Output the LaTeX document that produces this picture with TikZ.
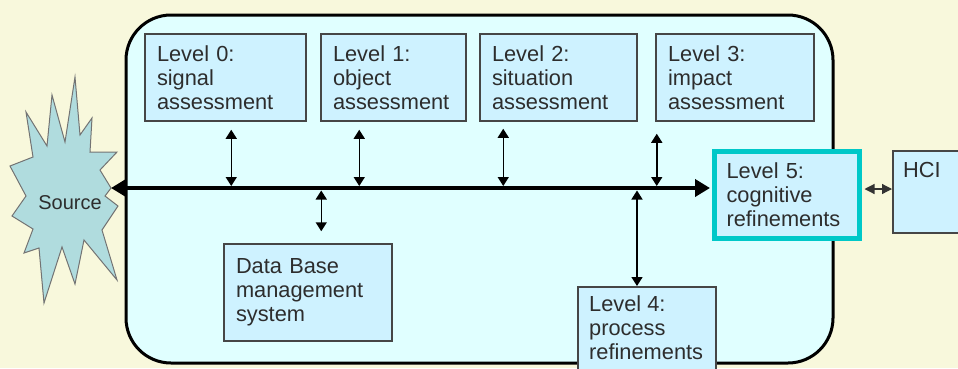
\documentclass[tikz,border=0pt]{standalone}
\usepackage{fontspec}
\setmainfont{Liberation Sans}
\usetikzlibrary{arrows.meta,calc}
\definecolor{bgyellow}{RGB}{248,248,220}
\definecolor{framefill}{RGB}{224,255,255}
\definecolor{boxfill}{RGB}{206,242,255}
\definecolor{boxline}{RGB}{70,70,70}
\definecolor{tealline}{RGB}{0,200,200}
\definecolor{srcfill}{RGB}{176,220,222}
\definecolor{txt}{RGB}{45,45,45}
\begin{document}
\begin{tikzpicture}[x=1pt,y=-1pt,
  boxst/.style={draw=boxline, line width=1.5pt, fill=boxfill, inner sep=0pt},
  lvl/.style={boxst, inner xsep=12pt, inner ysep=0pt, align=left, text=txt,
    font=\fontsize{21.8}{24}\selectfont},
  txtst/.style={inner sep=0pt, align=left, text=txt, font=\fontsize{21.8}{24}\selectfont},
  varr/.style={line width=1.5pt, {Triangle[length=9pt,width=11pt]}-{Triangle[length=9pt,width=11pt]}},
  busarr/.style={line width=4.5pt, {Triangle[length=15pt,width=17pt]}-{Triangle[length=15pt,width=17pt]}},
  harr/.style={line width=1.2pt, draw=black!80, {Triangle[length=10pt,width=10pt]}-{Triangle[length=10pt,width=10pt]}}
]
\useasboundingbox (0,0) rectangle (958,368);
\clip (0,0) rectangle (958,368);
\fill[bgyellow] (0,0) rectangle (958,368);

% container
\node[draw=black, line width=3pt, fill=framefill, rounded corners=45pt,
  minimum width=707pt, minimum height=348pt, inner sep=0pt] (frame) at (479.5,189) {};

% source starburst
\filldraw[fill=srcfill, draw=black!55, line width=1pt]
  (75,77) -- (80,135) -- (92,118) -- (90,152) -- (117,152) -- (100,170) -- (111,188)
  -- (105,196) -- (118,206) -- (102,230) -- (117,280) -- (84,240) -- (75,284)
  -- (62,247) -- (44,303) -- (39,248) -- (24,253) -- (33,229) -- (12,216)
  -- (26,196) -- (10,166) -- (33,157) -- (26,112) -- (47,146) -- (52,95)
  -- (65,142) -- cycle;
\node[txtst, font=\fontsize{20}{22}\selectfont] (src) at (70,203) {Source};
\coordinate (srctip) at (111,188);

% level boxes
\node[lvl, text width=137pt, minimum height=87pt] (l0) at (225.5,77.5) {Level 0:\\signal\\assessment};
\node[lvl, text width=121pt, minimum height=87pt] (l1) at (393.5,77.5) {Level 1:\\object\\assessment};
\node[lvl, text width=133pt, minimum height=87pt] (l2) at (558.5,77.5) {Level 2:\\situation\\assessment};
\node[lvl, text width=134pt, minimum height=87pt] (l3) at (735,77.5) {Level 3:\\impact\\assessment};
\node[lvl, text width=144pt, minimum height=97pt] (db) at (308,292.5) {Data Base\\management\\system};

\node[boxst, minimum width=138pt, minimum height=110pt, anchor=north] (l4) at (647,286) {};
\node[txtst, anchor=north west] (l4t) at (589,295) {Level 4:\\process\\refinements};

\node[boxst, minimum width=80pt, minimum height=82pt, anchor=north west] (hci) at (892,150) {};
\node[txtst, anchor=north west] (hcit) at (903,162) {HCI};

% bus coordinates
\coordinate (bustop) at (0,186);
\coordinate (busbot) at (0,190.5);

% vertical connectors
\coordinate (a0) at ($(l0.south west)+(87,8)$);
\draw[varr] (a0) -- (a0 |- bustop);
\coordinate (a1) at ($(l1.south west)+(39,8)$);
\draw[varr] (a1) -- (a1 |- bustop);
\coordinate (a2) at ($(l2.south west)+(24,7)$);
\draw[varr] (a2) -- (a2 |- bustop);
\coordinate (a3) at ($(l3.south west)+(1.5,12)$);
\draw[varr] (a3) -- (a3 |- bustop);
\coordinate (adb) at ($(db.north west)+(98,-12)$);
\draw[varr] (adb |- busbot) -- (adb);
\coordinate (a4) at ($(l4.north)+(-10,0)$);
\draw[varr] (a4 |- busbot) -- (a4);

% level 5
\node[lvl, draw=tealline, line width=5pt, text width=121pt, minimum height=87pt] (l5) at (787,195) {Level 5:\\cognitive\\refinements};

% main bus
\draw[busarr, shorten >=2pt] (srctip) -- (srctip -| l5.west);

% level 5 to HCI
\coordinate (hx) at ($(hci.north west)+(0,39)$);
\draw[harr] ($(hx -| l5.east)+(2.5,0)$) -- (hx);
\end{tikzpicture}
\end{document}
